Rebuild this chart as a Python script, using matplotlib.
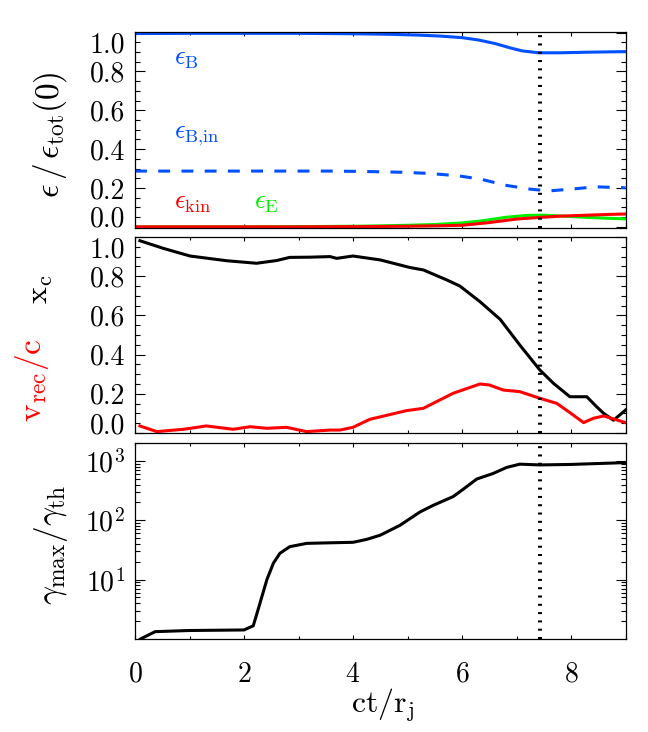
"""Three stacked panels: energy fractions, x_c / v_rec, and gamma_max growth vs ct/r_j."""
import matplotlib
matplotlib.use('Agg')
import matplotlib.pyplot as plt
import matplotlib.transforms as mtransforms
from matplotlib.ticker import MultipleLocator, LogLocator, NullFormatter, LogFormatterMathtext

plt.rcParams['font.family'] = 'serif'
plt.rcParams['font.serif'] = ['cmr10']
plt.rcParams['mathtext.fontset'] = 'cm'
plt.rcParams['axes.formatter.use_mathtext'] = True

BLUE = '#0050ff'
RED = '#ff0000'
GREEN = '#00ee00'

# panel 1: energy fractions
t_eb = [0, 1, 2, 3, 4, 4.7, 5.2, 5.6, 6.0, 6.3, 6.6, 6.9, 7.1, 7.4, 7.8, 8.3, 9.0]
eps_b = [0.995, 0.996, 0.996, 0.996, 0.994, 0.991, 0.987, 0.982, 0.974, 0.962, 0.944, 0.92, 0.906, 0.896, 0.896, 0.899, 0.902]

t_ebin = [0, 1, 2, 3, 3.6, 4.2, 4.9, 5.4, 5.95, 6.35, 6.8, 7.25, 7.6, 8.0, 8.45, 9.0]
eps_bin = [0.287, 0.287, 0.287, 0.287, 0.287, 0.285, 0.281, 0.275, 0.262, 0.245, 0.214, 0.194, 0.185, 0.194, 0.206, 0.201]

t_ee = [0, 2, 3, 4, 4.5, 5.0, 5.5, 6.0, 6.4, 6.8, 7.2, 7.5, 7.8, 8.2, 8.6, 9.0]
eps_e = [0.0, 0.0, 0.001, 0.003, 0.005, 0.008, 0.012, 0.02, 0.032, 0.049, 0.059, 0.06, 0.056, 0.05, 0.045, 0.041]

t_ek = [0, 2, 3, 4, 4.5, 5.0, 5.5, 6.0, 6.5, 7.0, 7.4, 7.8, 8.3, 8.7, 9.0]
eps_kin = [0.0, 0.0, 0.0, 0.001, 0.002, 0.003, 0.005, 0.008, 0.022, 0.04, 0.048, 0.055, 0.06, 0.064, 0.066]

# panel 2: x_c and v_rec/c
t_xc = [0.09, 0.52, 1.01, 1.68, 2.23, 2.6, 2.84, 3.2, 3.58, 3.7, 4.0, 4.5, 5.05, 5.29, 5.72, 5.96,
        6.33, 6.7, 7.06, 7.43, 7.68, 7.98, 8.29, 8.47, 8.6, 8.78, 9.0]
x_c = [0.981, 0.942, 0.903, 0.879, 0.866, 0.88, 0.896, 0.897, 0.9, 0.891, 0.903, 0.883, 0.844, 0.832, 0.781, 0.75,
       0.67, 0.58, 0.449, 0.321, 0.253, 0.185, 0.185, 0.134, 0.1, 0.065, 0.117]

t_vr = [0.09, 0.4, 0.89, 1.31, 1.8, 2.11, 2.42, 2.78, 3.15, 3.58, 3.76, 4.0, 4.31, 4.98, 5.29, 5.84,
        6.33, 6.5, 6.76, 7.06, 7.43, 7.74, 8.0, 8.23, 8.41, 8.6, 9.0]
v_rec = [0.036, 0.007, 0.019, 0.036, 0.019, 0.032, 0.024, 0.029, 0.007, 0.015, 0.015, 0.029, 0.07, 0.114, 0.126, 0.203,
         0.25, 0.245, 0.219, 0.211, 0.177, 0.151, 0.1, 0.053, 0.075, 0.087, 0.053]

# panel 3: gamma_max / gamma_th
t_g = [0.1, 0.37, 1.0, 2.0, 2.17, 2.26, 2.42, 2.54, 2.66, 2.84, 3.15, 3.58, 4.0, 4.25, 4.5, 4.86,
       5.23, 5.47, 5.84, 6.03, 6.27, 6.57, 6.82, 7.06, 7.43, 7.98, 9.0]
gam = [1.0, 1.33, 1.39, 1.42, 1.67, 3.16, 10, 19, 27.8, 35.9, 40.8, 41.7, 42.5, 47.6, 56, 82,
       138, 178, 251, 337, 494, 613, 776, 880, 855, 870, 935]

t_mark = 7.43

W, H = 648, 732
fig = plt.figure(figsize=(W / 100, H / 100), dpi=100)


def box(top, bottom):
    return [135 / W, 1 - bottom / H, 490.5 / W, (bottom - top) / H]


ax1 = fig.add_axes(box(32, 228))
ax2 = fig.add_axes(box(237, 433))
ax3 = fig.add_axes(box(443, 639))

ax1.plot(t_eb, eps_b, color=BLUE, lw=2.2)
ax1.plot(t_ebin, eps_bin, color=BLUE, lw=2.2, dashes=(3.9, 3.7))
ax1.plot(t_ee, eps_e, color=GREEN, lw=2.2)
ax1.plot(t_ek, eps_kin, color=RED, lw=2.2)
ax1.set_ylim(-0.006, 1.003)

ax1.text(0.72, 0.865, r'$\epsilon_\mathrm{B}$', color=BLUE, fontsize=19, va='center')
ax1.text(0.72, 0.465, r'$\epsilon_\mathrm{B{,}in}$', color=BLUE, fontsize=19, va='center')
ax1.text(0.72, 0.12, r'$\epsilon_\mathrm{kin}$', color=RED, fontsize=19, va='center')
ax1.text(2.18, 0.12, r'$\epsilon_\mathrm{E}$', color=GREEN, fontsize=19, va='center')

ax2.plot(t_xc, x_c, color='black', lw=2.2)
ax2.plot(t_vr, v_rec, color=RED, lw=2.2)
ax2.set_ylim(0, 1.0)

ax3.plot(t_g, gam, color='black', lw=2.2)
ax3.set_yscale('log')
ax3.set_ylim(1, 2000)

for ax in (ax1, ax2, ax3):
    ax.axvline(t_mark, color='black', lw=2.9, linestyle=(0, (0.5, 1.56)))
    ax.set_xlim(0, 9)
    ax.xaxis.set_major_locator(MultipleLocator(2))
    ax.xaxis.set_minor_locator(MultipleLocator(1))
    ax.tick_params(which='both', direction='in', top=True, right=True, labelsize=20)
    ax.tick_params(axis='y', which='major', length=7.2, width=0.8, pad=7)
    ax.tick_params(axis='y', which='minor', length=3.6, width=0.8)
    ax.tick_params(axis='x', which='major', length=3, width=0.8, pad=16)
    ax.tick_params(axis='x', which='minor', length=2.5, width=0.8)
    for s in ax.spines.values():
        s.set_linewidth(0.9)

up = mtransforms.ScaledTranslation(0, 10 / 100, fig.dpi_scale_trans)
down = mtransforms.ScaledTranslation(0, -10 / 100, fig.dpi_scale_trans)
for ax in (ax1, ax2):
    ax.yaxis.set_minor_locator(MultipleLocator(0.05))
    ax.set_yticks([0, 0.2, 0.4, 0.6, 0.8, 1.0])
    ax.set_yticklabels(['0.0', '0.2', '0.4', '0.6', '0.8', '1.0'])
    ax.tick_params(labelbottom=False)
    ticks = ax.yaxis.get_major_ticks()
    ticks[0].label1.set_transform(ticks[0].label1.get_transform() + up)
    ticks[-1].label1.set_transform(ticks[-1].label1.get_transform() + down)

ax3.set_yticks([10, 100, 1000])
ax3.yaxis.set_major_formatter(LogFormatterMathtext())
ax3.yaxis.set_minor_locator(LogLocator(base=10, subs=range(2, 10), numticks=20))
ax3.yaxis.set_minor_formatter(NullFormatter())


def figtext(px, py, s, **kw):
    fig.text(px / W, 1 - py / H, s, ha='center', va='center', rotation=90, **kw)


figtext(50, 135, r'$\epsilon\,/\,\epsilon_\mathrm{tot}(0)$', fontsize=24)
figtext(41, 289, r'$\mathrm{x}_\mathrm{c}$', fontsize=23)
figtext(32, 380, r'$\mathrm{v}_\mathrm{rec}/\mathrm{c}$', fontsize=24, color=RED)
figtext(51, 545, r'$\gamma_\mathrm{max}/\gamma_\mathrm{th}$', fontsize=24)
fig.text(383 / W, 1 - 705 / H, r'$\mathrm{ct}/\mathrm{r_j}$', ha='center', va='center', fontsize=23)

fig.savefig('out.png', dpi=100)
